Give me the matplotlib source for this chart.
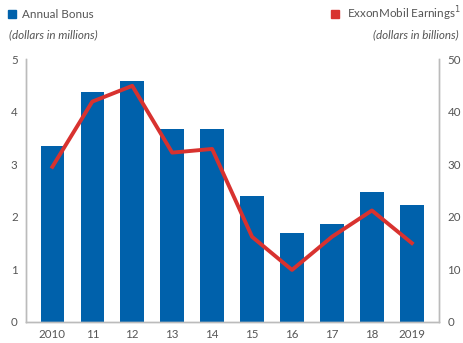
import matplotlib
matplotlib.use("Agg")
import matplotlib.pyplot as plt
from matplotlib.patches import Rectangle

plt.rcParams['font.family'] = ['Lato', 'DejaVu Sans']

years = ["2010", "11", "12", "13", "14", "15", "16", "17", "18", "2019"]
bonus = [3.35, 4.37, 4.59, 3.66, 3.66, 2.39, 1.69, 1.86, 2.47, 2.22]
earnings = [29.5, 41.9, 44.9, 32.2, 32.9, 16.2, 9.9, 16.2, 21.2, 15.0]

blue = "#0061ab"
red = "#d8322f"
grey = "#555555"
spine = "#bbbbbb"

fig = plt.figure(figsize=(4.64, 3.43), dpi=100)
W, H = 464, 343
ax = fig.add_axes([26 / W, 1 - 322 / H, (439 - 26) / W, (322 - 59) / H])
x = list(range(len(years)))
ax.bar(x, bonus, width=0.59, color=blue, zorder=2)
ax.set_ylim(0, 5)
ax.set_xlim(-0.66, 9.68)
ax.set_xticks(x)
ax.set_xticklabels(years)
ax.set_yticks(range(6))

ax2 = ax.twinx()
ax2.plot(x, earnings, color=red, lw=2.8, zorder=3)
ax2.set_ylim(0, 50)
ax2.set_yticks(range(0, 51, 10))

for a in (ax, ax2):
    a.spines['top'].set_visible(False)
    for s in ('left', 'right', 'bottom'):
        a.spines[s].set_color(spine)
        a.spines[s].set_linewidth(1.0)
    a.tick_params(length=0, labelsize=8.3, labelcolor=grey, pad=6)
ax.tick_params(axis='x', pad=5)

# legend / unit captions
fs = 8.4
fig.patches.append(Rectangle((8 / W, 1 - 18 / H), 8 / W, 8 / H,
                             transform=fig.transFigure, color=blue))
fig.text(22 / W, 1 - 14 / H, "Annual Bonus", fontsize=fs, color=grey, va='center')
fig.text(9 / W, 1 - 35 / H, "(dollars in millions)", fontsize=fs, color=grey,
         style='italic', va='center')
fig.patches.append(Rectangle((331 / W, 1 - 18 / H), 8 / W, 8 / H,
                             transform=fig.transFigure, color=red))
fig.text(461 / W, 1 - 14 / H, "ExxonMobil Earnings$^1$", fontsize=fs, color=grey,
         va='center', ha='right')
fig.text(459 / W, 1 - 35 / H, "(dollars in billions)", fontsize=fs, color=grey,
         style='italic', va='center', ha='right')

fig.savefig("out.png", dpi=100)
